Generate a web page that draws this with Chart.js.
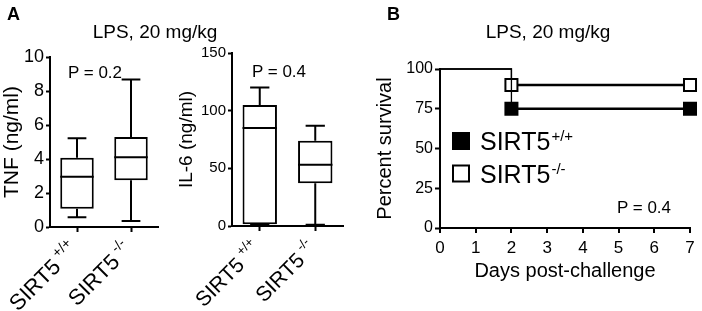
<!DOCTYPE html>
<html>
<head>
<meta charset="utf-8">
<script src="https://cdn.jsdelivr.net/npm/chart.js@4.4.0/dist/chart.umd.min.js"></script>
<style>
  body { margin: 0; background: #fff; font-family: "Liberation Sans", Arial, sans-serif; }
  #wrap { position: relative; width: 702px; height: 311px; overflow: hidden; }
  .panel { position: absolute; top: 0; height: 311px; }
  .txt { position: absolute; white-space: nowrap; color: #000; line-height: 1; }
  .center { transform: translateX(-50%); }
</style>
</head>
<body>
<div id="wrap">
  <div class="panel" style="left:0;width:165px"><canvas id="tnfChart" width="165" height="311"></canvas></div>
  <div class="panel" style="left:165px;width:195px"><canvas id="il6Chart" width="195" height="311"></canvas></div>
  <div class="panel" style="left:360px;width:342px"><canvas id="survChart" width="342" height="311"></canvas></div>

  <div class="txt" style="left:7px;top:5px;font-size:18px;font-weight:bold">A</div>
  <div class="txt" style="left:387px;top:5px;font-size:18px;font-weight:bold">B</div>
  <div class="txt center" style="left:155px;top:22px;font-size:19px">LPS, 20 mg/kg</div>
  <div class="txt center" style="left:548px;top:22px;font-size:19px">LPS, 20 mg/kg</div>
  <div class="txt" style="left:68px;top:64px;font-size:17px">P = 0.2</div>
  <div class="txt" style="left:252px;top:63px;font-size:17px">P = 0.4</div>
  <div class="txt" style="left:617px;top:199px;font-size:17px">P = 0.4</div>
</div>

<script>
// Groups (SIRT5 genotype)
const geneName = 'SIRT5';
const genotypes = ['+/+', '-/-'];

// TNF (ng/ml) box plot values
const tnfMin = [0.58, 0.35];
const tnfQ1 = [1.08, 2.75];
const tnfMedian = [2.95, 4.1];
const tnfQ3 = [4.08, 5.3];
const tnfMax = [5.22, 8.67];

// IL-6 (ng/ml) box plot values
const il6Min = [1.2, 1];
const il6Q1 = [1.5, 37];
const il6Median = [85, 53];
const il6Q3 = [105, 74];
const il6Max = [120, 87];

// Survival (percent) by day
const days = [0, 2, 7];
const survivalWT = [100, 75, 75];
const survivalKO = [100, 90, 90];

// Axis ticks
const tnfTicks = [0, 2, 4, 6, 8, 10];
const il6Ticks = [0, 50, 100, 150];
const survivalTicks = [0, 25, 50, 75, 100];
const dayTicks = [0, 1, 2, 3, 4, 5, 6, 7];

const FONT = '"Liberation Sans", Arial, sans-serif';
Chart.defaults.font.family = FONT;
Chart.defaults.color = '#000';

// Whiskers and median lines drawn on top of the floating bars
const boxPlotLines = {
    id: 'boxPlotLines',
    afterDatasetsDraw(chart, args, opts) {
        const meta = chart.getDatasetMeta(0);
        const y = chart.scales.y;
        const ctx = chart.ctx;
        ctx.save();
        ctx.strokeStyle = '#000';
        ctx.lineWidth = 2;
        meta.data.forEach((bar, i) => {
            const cx = bar.x;
            const half = bar.width / 2;
            const cap = bar.width * 0.28;
            const yMin = y.getPixelForValue(opts.min[i]);
            const yQ1 = y.getPixelForValue(opts.q1[i]);
            const yMed = y.getPixelForValue(opts.median[i]);
            const yQ3 = y.getPixelForValue(opts.q3[i]);
            const yMax = y.getPixelForValue(opts.max[i]);
            ctx.beginPath();
            ctx.moveTo(cx - half, yMed); ctx.lineTo(cx + half, yMed);
            ctx.moveTo(cx, yQ3); ctx.lineTo(cx, yMax);
            ctx.moveTo(cx - cap, yMax); ctx.lineTo(cx + cap, yMax);
            ctx.moveTo(cx, yQ1); ctx.lineTo(cx, yMin);
            ctx.moveTo(cx - cap, yMin); ctx.lineTo(cx + cap, yMin);
            ctx.stroke();
        });
        ctx.restore();
    }
};

// Rotated category labels with superscript genotype
const genotypeLabels = {
    id: 'genotypeLabels',
    afterDraw(chart, args, opts) {
        const xs = chart.scales.x;
        const ctx = chart.ctx;
        xs.ticks.forEach((t, i) => {
            const px = xs.getPixelForTick(i);
            const sup = genotypes[i];
            ctx.save();
            ctx.fillStyle = '#000';
            ctx.font = opts.size + 'px ' + FONT;
            const wBase = ctx.measureText(geneName).width;
            ctx.font = opts.supSize + 'px ' + FONT;
            const wSup = ctx.measureText(sup).width;
            const total = wBase + opts.gap + wSup;
            ctx.translate(px + opts.dx, xs.top + opts.dy);
            ctx.rotate(-Math.PI / 4);
            ctx.textAlign = 'left';
            ctx.textBaseline = 'alphabetic';
            ctx.font = opts.size + 'px ' + FONT;
            ctx.fillText(geneName, -total, 0);
            ctx.font = opts.supSize + 'px ' + FONT;
            ctx.fillText(sup, -wSup, -opts.raise);
            ctx.restore();
        });
    }
};

function fixedWidth(w) { return scale => { scale.width = w; }; }
function fixedHeight(h) { return scale => { scale.height = h; }; }

function boxChart(canvasId, cfg) {
    return new Chart(document.getElementById(canvasId), {
        type: 'bar',
        data: {
            labels: genotypes.map(g => geneName + g),
            datasets: [{
                data: cfg.q1.map((v, i) => [v, cfg.q3[i]]),
                backgroundColor: '#fff',
                borderColor: '#000',
                borderWidth: 2,
                borderSkipped: false,
                barPercentage: 0.62,
                categoryPercentage: 1.0
            }]
        },
        options: {
            responsive: false,
            animation: false,
            layout: { padding: cfg.padding },
            plugins: {
                legend: { display: false },
                tooltip: { enabled: false },
                boxPlotLines: { min: cfg.min, q1: cfg.q1, median: cfg.median, q3: cfg.q3, max: cfg.max },
                genotypeLabels: cfg.labelOpts
            },
            scales: {
                x: {
                    offset: true,
                    grid: { display: true, drawOnChartArea: false, offset: false, tickLength: 5, tickColor: '#000', tickWidth: 2 },
                    border: { display: true, color: '#000', width: 2 },
                    ticks: { display: false },
                    afterFit: fixedHeight(cfg.xHeight)
                },
                y: {
                    min: 0,
                    max: cfg.ticks[cfg.ticks.length - 1],
                    afterBuildTicks: s => { s.ticks = cfg.ticks.map(v => ({ value: v })); },
                    grid: { display: true, drawOnChartArea: false, tickLength: 4, tickColor: '#000', tickWidth: 2 },
                    border: { display: true, color: '#000', width: 2 },
                    ticks: { font: { size: cfg.tickSize }, padding: 2, color: '#000' },
                    title: { display: true, text: cfg.title, font: { size: cfg.titleSize }, padding: { top: cfg.titlePad, bottom: 0 }, color: '#000' },
                    afterFit: fixedWidth(cfg.yWidth)
                }
            }
        },
        plugins: [boxPlotLines, genotypeLabels]
    });
}

boxChart('tnfChart', {
    min: tnfMin, q1: tnfQ1, median: tnfMedian, q3: tnfQ3, max: tnfMax,
    ticks: tnfTicks, title: 'TNF (ng/ml)', titleSize: 21, titlePad: 0, tickSize: 18,
    padding: { left: 0, right: 7, top: 57, bottom: 0 },
    yWidth: 50, xHeight: 84,
    labelOpts: { size: 22, supSize: 14, gap: 4, dx: 2, dy: 24, raise: 10 }
});

boxChart('il6Chart', {
    min: il6Min, q1: il6Q1, median: il6Median, q3: il6Q3, max: il6Max,
    ticks: il6Ticks, title: 'IL-6 (ng/ml)', titleSize: 19, titlePad: 10, tickSize: 15,
    padding: { left: 0, right: 17, top: 53, bottom: 0 },
    yWidth: 67, xHeight: 85,
    labelOpts: { size: 21, supSize: 13, gap: 4, dx: 2, dy: 24, raise: 10 }
});

// Legend drawn inside the survival plot area
const survivalLegend = {
    id: 'survivalLegend',
    afterDraw(chart, args, opts) {
        const ctx = chart.ctx;
        const area = chart.chartArea;
        const s = opts.box;
        ctx.save();
        opts.items.forEach((item, i) => {
            const cy = area.top + opts.top + i * opts.gap;
            const sx = area.left + opts.left;
            ctx.fillStyle = item.fill;
            ctx.strokeStyle = '#000';
            ctx.lineWidth = 2;
            ctx.fillRect(sx, cy - s / 2, s, s);
            ctx.strokeRect(sx + 1, cy - s / 2 + 1, s - 2, s - 2);
            ctx.fillStyle = '#000';
            ctx.textBaseline = 'alphabetic';
            ctx.font = opts.size + 'px ' + FONT;
            const tx = sx + s + 10;
            ctx.fillText(geneName, tx, cy + 9);
            const w = ctx.measureText(geneName).width;
            ctx.font = opts.supSize + 'px ' + FONT;
            ctx.fillText(item.sup, tx + w + 1, cy);
        });
        ctx.restore();
    }
};

const toPoints = vals => days.map((d, i) => ({ x: d, y: vals[i] }));
const segWidth = { borderWidth: c => (c.p0.parsed.x < 2 ? 1.3 : 2.5) };

new Chart(document.getElementById('survChart'), {
    type: 'line',
    data: {
        datasets: [
            {
                label: geneName + genotypes[0],
                data: toPoints(survivalWT),
                borderColor: '#000',
                stepped: 'before',
                segment: segWidth,
                pointStyle: 'rect',
                pointRadius: [0, 8.5, 8.5],
                pointBackgroundColor: '#000',
                pointBorderColor: '#000',
                pointBorderWidth: 2,
                clip: false
            },
            {
                label: geneName + genotypes[1],
                data: toPoints(survivalKO),
                borderColor: '#000',
                stepped: 'before',
                segment: segWidth,
                pointStyle: 'rect',
                pointRadius: [0, 8.5, 8.5],
                pointBackgroundColor: '#fff',
                pointBorderColor: '#000',
                pointBorderWidth: 2,
                clip: false
            }
        ]
    },
    options: {
        responsive: false,
        animation: false,
        layout: { padding: { left: 0, right: 12, top: 69, bottom: 0 } },
        plugins: {
            legend: { display: false },
            tooltip: { enabled: false },
            survivalLegend: {
                top: 72, gap: 32.5, left: 12, box: 18, size: 25, supSize: 15,
                items: [{ fill: '#000', sup: genotypes[0] }, { fill: '#fff', sup: genotypes[1] }]
            }
        },
        scales: {
            x: {
                type: 'linear',
                min: 0,
                max: 7,
                afterBuildTicks: s => { s.ticks = dayTicks.map(v => ({ value: v })); },
                grid: {
                    display: true,
                    drawOnChartArea: true,
                    color: c => (c.tick && c.tick.value === 0 ? '#000' : 'rgba(0,0,0,0)'),
                    lineWidth: 2,
                    tickLength: 5,
                    tickColor: '#000',
                    tickWidth: 2
                },
                border: { display: true, color: '#000', width: 2 },
                ticks: { font: { size: 17 }, padding: 5, color: '#000', maxRotation: 0 },
                title: { display: true, text: 'Days post-challenge', font: { size: 20 }, padding: { top: 0, bottom: 28 }, color: '#000' },
                afterFit: fixedHeight(83)
            },
            y: {
                type: 'linear',
                position: 'left',
                min: 0,
                max: 100,
                afterBuildTicks: s => { s.ticks = survivalTicks.map(v => ({ value: v })); },
                grid: { display: true, drawOnChartArea: false, tickLength: 5, tickColor: '#000', tickWidth: 2 },
                border: { display: true, color: '#000', width: 2 },
                ticks: { font: { size: 16 }, padding: 2, color: '#000' },
                title: { display: true, text: 'Percent survival', font: { size: 20 }, padding: { top: 13, bottom: 0 }, color: '#000' },
                afterFit: fixedWidth(80)
            }
        }
    },
    plugins: [survivalLegend]
});
</script>
</body>
</html>
